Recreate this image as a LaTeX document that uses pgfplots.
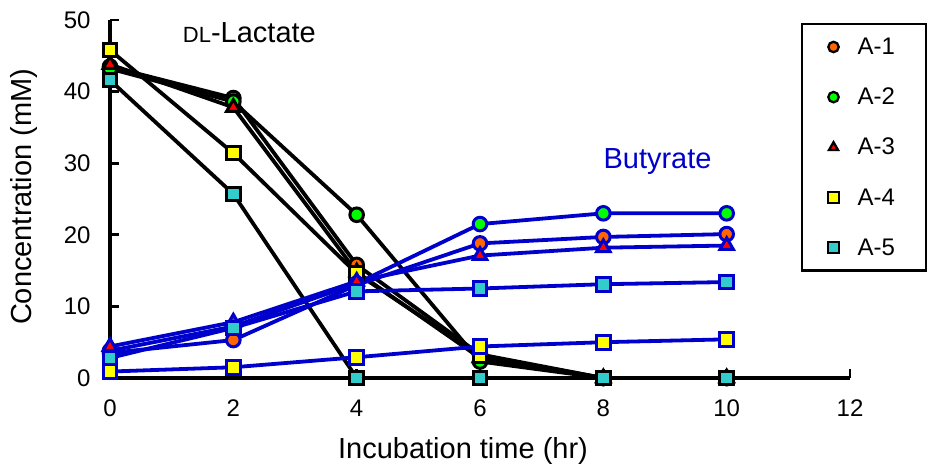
\documentclass[border=0pt]{standalone}
\usepackage{pgfplots}
\pgfplotsset{compat=1.18}
\usepackage{pgfplotstable}
\usepackage{fontspec}
\setmainfont{Liberation Sans}

\definecolor{cOrange}{HTML}{FF6600}
\definecolor{cGreen}{HTML}{00FF00}
\definecolor{cRed}{HTML}{FF0000}
\definecolor{cYellow}{HTML}{FFFF00}
\definecolor{cCyan}{HTML}{33CCCC}
\definecolor{cBlue}{HTML}{0000CC}

% DL-lactate consumption (mM)
\pgfplotstableread{
t   A1    A2    A3    A4    A5
0   43.5  43.2  43.8  45.8  41.6
2   39.1  38.6  37.8  31.4  25.7
4   15.8  22.8  14.8  14.6  0
6   3.3   2.3   2.8   3.1   0
8   0     0     0     0     0
10  0     0     0     0     0
}\lactate

% Butyrate production (mM)
\pgfplotstableread{
t   A1    A2    A3    A4    A5
0   3.5   3.8   4.4   0.9   2.8
2   5.3   7.2   7.8   1.5   7.0
4   13.0  13.2  13.5  2.9   12.1
6   18.8  21.5  17.1  4.4   12.5
8   19.7  23.0  18.2  5.0   13.1
10  20.1  23.0  18.5  5.4   13.4
}\butyrate

\pgfplotsset{
  lac/.style 2 args={black, line width=3.8pt, mark=#1, mark size=6.8pt,
    mark options={solid, line width=3pt, draw=black, fill=#2}},
  but/.style 2 args={cBlue, line width=3.8pt, mark=#1, mark size=6.8pt,
    mark options={solid, line width=3pt, draw=cBlue, fill=#2}},
  leg/.style 2 args={only marks, mark=#1, mark size=5.2pt,
    mark options={line width=2.3pt, draw=black, fill=#2}},
}
\newcommand{\legtext}[1]{\hbox to 40pt{#1\hfil}}

\begin{document}
\begin{tikzpicture}
\useasboundingbox (0pt,0pt) rectangle (929pt,472pt);
\begin{axis}[
  at={(110pt,94pt)}, anchor=south west,
  scale only axis, width=740pt, height=358pt,
  xmin=0, xmax=12, ymin=0, ymax=50,
  clip=false,
  axis x line*=bottom, axis y line*=left,
  axis line style={line width=3.6pt, -},
  xtick={0,2,...,12}, ytick={0,10,...,50},
  tick align=inside, major tick length=9pt,
  tick style={line width=2.8pt, black},
  /pgf/number format/assume math mode=true,
  ticklabel style={font=\fontsize{24}{24}\selectfont},
  xticklabel style={yshift=-18pt},
  yticklabel style={xshift=-16pt},
  xlabel={Incubation time (hr)},
  ylabel={Concentration (mM)},
  xlabel style={at={(axis description cs:0.477,0)}, anchor=north,
    inner sep=0pt, yshift=-59pt, font=\fontsize{29}{29}\selectfont},
  ylabel style={at={(axis description cs:-0.1162,0.506)}, anchor=center,
    inner sep=0pt, font=\fontsize{29}{29}\selectfont},
  legend style={at={(rel axis cs:1.1038,0.992)}, anchor=north east,
    draw=black, line width=2.2pt, fill=white,
    font=\fontsize{24}{24}\selectfont,
    inner xsep=26pt, inner ysep=12pt, row sep=28pt,
    nodes={inner sep=2pt},
    /tikz/every odd column/.append style={column sep=17pt}},
  legend cell align=left,
]
% lactate series
\addplot[lac={*}{cOrange}, forget plot] table[x=t, y=A1] {\lactate};
\addplot[lac={*}{cGreen}, forget plot] table[x=t, y=A2] {\lactate};
\addplot[lac={triangle*}{cRed}, mark size=7.8pt, forget plot] table[x=t, y=A3] {\lactate};
\addplot[lac={square*}{cYellow}, forget plot] table[x=t, y=A4] {\lactate};
\addplot[lac={square*}{cCyan}, forget plot] table[x=t, y=A5] {\lactate};
% butyrate series
\addplot[but={*}{cOrange}, forget plot] table[x=t, y=A1] {\butyrate};
\addplot[but={*}{cGreen}, forget plot] table[x=t, y=A2] {\butyrate};
\addplot[but={triangle*}{cRed}, mark size=7.8pt, forget plot] table[x=t, y=A3] {\butyrate};
\addplot[but={square*}{cYellow}, forget plot] table[x=t, y=A4] {\butyrate};
\addplot[but={square*}{cCyan}, forget plot] table[x=t, y=A5] {\butyrate};
% legend
\addlegendimage{leg={*}{cOrange}}
\addlegendentry{\legtext{A-1}}
\addlegendimage{leg={*}{cGreen}}
\addlegendentry{\legtext{A-2}}
\addlegendimage{leg={triangle*}{cRed}}
\addlegendentry{\legtext{A-3}}
\addlegendimage{leg={square*}{cYellow}}
\addlegendentry{\legtext{A-4}}
\addlegendimage{leg={square*}{cCyan}}
\addlegendentry{\legtext{A-5}}
% annotations
\node[anchor=base west, font=\fontsize{29}{29}\selectfont, inner sep=0pt]
  at (axis cs:1.18,46.9) {{\fontsize{22}{22}\selectfont DL}-Lactate};
\node[anchor=base west, font=\fontsize{29}{29}\selectfont, text=cBlue, inner sep=0pt]
  at (axis cs:8.0,29.3) {Butyrate};
\end{axis}
\end{tikzpicture}
\end{document}
